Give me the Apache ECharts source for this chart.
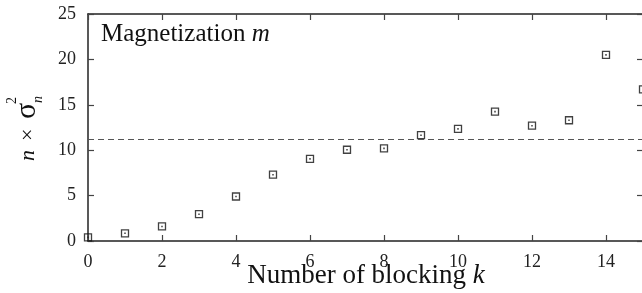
<!DOCTYPE html>
<html>
<head>
<meta charset="utf-8">
<script src="https://cdn.jsdelivr.net/npm/echarts@6/dist/echarts.min.js"></script>
<style>
  html, body { margin: 0; padding: 0; background: #fff; }
  #chart { width: 642px; height: 293px; }
</style>
</head>
<body>
<div id="chart"></div>
<script>
// blocking level k and the variance estimate n * sigma_n^2
const blockK = [0, 1, 2, 3, 4, 5, 6, 7, 8, 9, 10, 11, 12, 13, 14, 15]
const nSigma2 = [0.4, 0.85, 1.6, 2.95, 4.9, 7.3, 9.05, 10.05, 10.2, 11.65, 12.35, 14.25, 12.7, 13.3, 20.5, 16.7]
const plateau = 11.25
const xTicks = { min: 0, max: 15, interval: 2 }
const yTicks = { min: 0, max: 25, interval: 5 }

const points = blockK.map((k, i) => [k, nSigma2[i]])

const serif = 'Liberation Serif, DejaVu Serif, serif'
const ink = '#222'

const chart = echarts.init(document.getElementById('chart'))

// all four sides share the same frame look, ticks pointing inwards
const sideAxis = {
  axisLine: { show: true, onZero: false, lineStyle: { color: ink, width: 1.5 } },
  axisTick: { show: true, inside: true, length: 6, lineStyle: { color: '#444', width: 1.2 } },
  splitLine: { show: false },
}

chart.setOption({
  animation: false,
  backgroundColor: '#fff',
  grid: { left: 88, right: -1, top: 14, bottom: 52, outerBoundsMode: 'none', containLabel: false },
  xAxis: [
    {
      type: 'value',
      ...xTicks,
      ...sideAxis,
      axisLabel: { fontFamily: serif, fontSize: 18, color: ink, margin: 12, showMaxLabel: false },
    },
    {
      type: 'value', position: 'top',
      ...xTicks,
      ...sideAxis,
      axisLabel: { show: false },
    },
  ],
  yAxis: [
    {
      type: 'value',
      ...yTicks,
      ...sideAxis,
      axisLabel: { fontFamily: serif, fontSize: 18, color: ink, margin: 12 },
    },
    {
      type: 'value', position: 'right',
      ...yTicks,
      ...sideAxis,
      axisLabel: { show: false },
    },
  ],
  series: [
    {
      type: 'scatter',
      data: points,
      symbol: 'rect',
      symbolSize: 7,
      itemStyle: { color: 'rgba(0,0,0,0)', borderColor: '#111', borderWidth: 1.3 },
      clip: false,
      markLine: {
        silent: true,
        symbol: 'none',
        label: { show: false },
        lineStyle: { color: '#555', type: [6, 4], width: 1.2 },
        data: [{ yAxis: plateau }],
      },
    },
    {
      type: 'scatter',
      data: points,
      symbol: 'rect',
      symbolSize: 1.6,
      itemStyle: { color: '#222' },
      clip: false,
    },
  ],
  graphic: [
    {
      type: 'text',
      left: 101, top: 22,
      style: {
        text: 'Magnetization {i|m}',
        font: '25px ' + serif,
        fill: '#111',
        rich: { i: { fontFamily: serif, fontSize: 25, fontStyle: 'italic', fill: '#111' } },
      },
    },
    {
      // x axis title
      type: 'text',
      x: 366, y: 276,
      style: {
        text: 'Number of blocking {i|k}',
        font: '27px ' + serif,
        fill: '#111',
        align: 'center',
        verticalAlign: 'middle',
        rich: { i: { fontFamily: serif, fontSize: 27, fontStyle: 'italic', fill: '#111' } },
      },
    },
    {
      // y axis title, rotated to read bottom to top; local y=0 is the baseline
      type: 'group',
      x: 36, y: 161,
      rotation: Math.PI / 2,
      children: [
        { type: 'text', x: 0, y: -7.5, style: { text: 'n', font: 'italic 22px ' + serif, fill: '#111', verticalAlign: 'middle' } },
        { type: 'text', x: 20, y: -7.5, style: { text: '×', font: '22px ' + serif, fill: '#111', verticalAlign: 'middle' } },
        { type: 'text', x: 42, y: -9, style: { text: 'σ', font: '30px ' + serif, fill: '#111', verticalAlign: 'middle' } },
        { type: 'text', x: 57, y: -23.5, style: { text: '2', font: '14px ' + serif, fill: '#111', verticalAlign: 'middle' } },
        { type: 'text', x: 58, y: 2.5, style: { text: 'n', font: 'italic 14px ' + serif, fill: '#111', verticalAlign: 'middle' } },
      ],
    },
  ],
})
</script>
</body>
</html>
